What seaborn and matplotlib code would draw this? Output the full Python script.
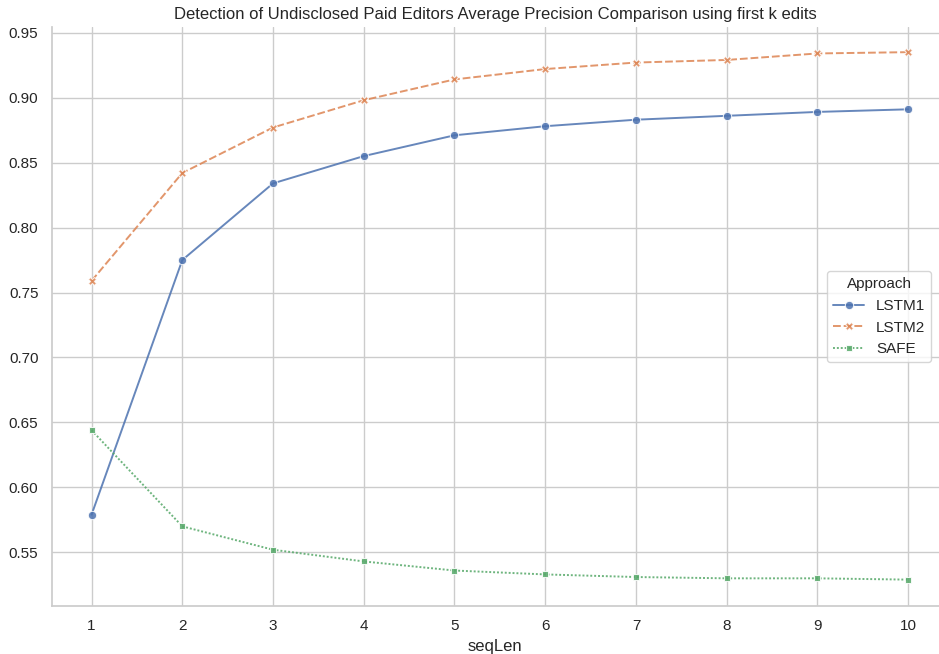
import matplotlib
matplotlib.use("Agg")
import matplotlib.pyplot as plt
import seaborn as sns
import pandas as pd

seq_len = [1, 2, 3, 4, 5, 6, 7, 8, 9, 10]
lstm1 = [0.579, 0.775, 0.834, 0.855, 0.871, 0.878, 0.883, 0.886, 0.889, 0.891]
lstm2 = [0.759, 0.842, 0.877, 0.898, 0.914, 0.922, 0.927, 0.929, 0.934, 0.935]
safe = [0.644, 0.570, 0.552, 0.543, 0.536, 0.533, 0.531, 0.530, 0.530, 0.529]
approaches = ["LSTM1", "LSTM2", "SAFE"]

rows = []
for name, vals in zip(approaches, [lstm1, lstm2, safe]):
    for x, v in zip(seq_len, vals):
        rows.append({"seqLen": x, "value": v, "Approach": name})
df = pd.DataFrame(rows)

sns.set_theme(style="whitegrid")
plt.rcParams["font.family"] = ["Liberation Sans", "DejaVu Sans"]

fig = plt.figure(figsize=(9.39, 6.54), dpi=100)
ax = fig.add_axes([0.055, 0.073, 0.945, 0.885])
sns.lineplot(data=df, x="seqLen", y="value", hue="Approach", style="Approach",
             markers=True, ax=ax, markersize=6, linewidth=1.4, alpha=0.85)
sns.despine(ax=ax, top=True, right=True)
ax.set_xticks(seq_len)
ax.set_xlim(0.56, 10.34)
ax.set_ylim(0.5085, 0.954)
ax.set_ylabel("")
ax.set_xlabel("seqLen", fontsize=12)
ax.tick_params(labelsize=11)
ax.set_title("Detection of Undisclosed Paid Editors Average Precision Comparison using first k edits", fontsize=12)
leg = ax.legend(title="Approach", loc="center right", bbox_to_anchor=(1.0, 0.50), fontsize=11, title_fontsize=11)
fig.savefig("out.png", dpi=100)
